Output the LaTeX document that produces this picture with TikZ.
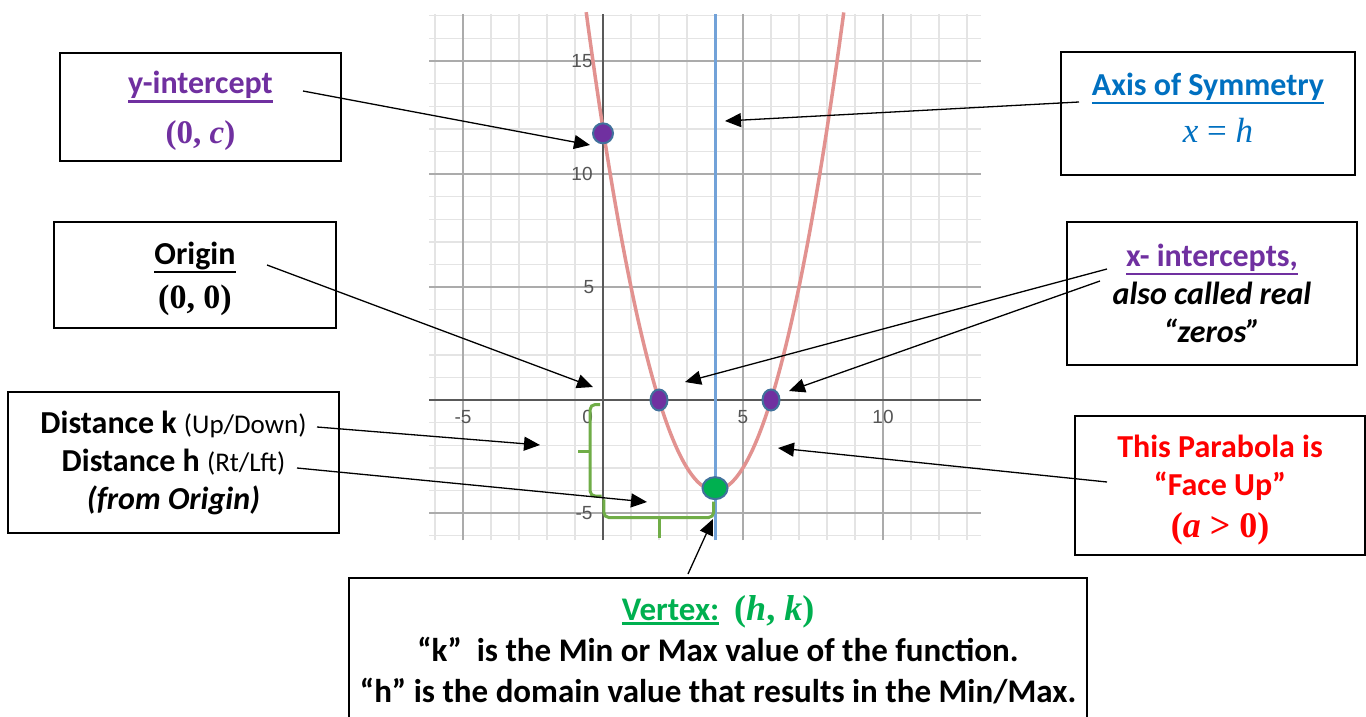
\documentclass[tikz,border=0pt]{standalone}
\usepackage{fontspec}
\setmainfont{Carlito}
\newfontfamily\tickfont{Liberation Sans}
\newfontfamily\mathserif{Liberation Serif}
\usepackage{tikz}
\usetikzlibrary{arrows.meta,calc,shapes.geometric}
\definecolor{purp}{HTML}{7030A0}
\definecolor{symblue}{HTML}{0070C0}
\definecolor{vgreen}{HTML}{00B050}
\definecolor{brgreen}{HTML}{70AD47}
\definecolor{ptedge}{HTML}{41719C}
\definecolor{curvered}{HTML}{E29290}
\definecolor{axisblue}{HTML}{72A2D8}
\definecolor{minorgrid}{HTML}{E4E4E4}
\definecolor{majorgrid}{HTML}{ABABAB}
\definecolor{ticktext}{HTML}{555555}
\newcommand{\uln}[1]{\leavevmode\vtop{\hbox{#1}\kern1.4pt\hrule height 2.2pt}}
\newcommand{\mth}[2]{{\mathserif\fontsize{#1}{#1}\selectfont #2}}
\tikzset{
  notebox/.style={draw=black, line width=1.8pt, fill=white, align=center, inner sep=0pt, font=\fontsize{32}{38}\selectfont\bfseries},
  callout/.style={-{Triangle[length=16pt,width=14pt]}, line width=1.3pt, draw=black},
  minorline/.style={draw=minorgrid, line width=1.4pt},
  majorline/.style={draw=majorgrid, line width=1.5pt},
  axisline/.style={draw=black!65, line width=2pt},
  ticklabel/.style={font=\tickfont\fontsize{19}{19}\selectfont, text=ticktext, inner sep=0pt},
  bracepath/.style={draw=brgreen, line width=3pt, rounded corners=5pt},
  zerodot/.style={ellipse, draw=ptedge, line width=2pt, fill=purp, minimum width=17pt, minimum height=21pt, inner sep=0pt},
  vertexdot/.style={ellipse, draw=ptedge, line width=2pt, fill=vgreen, minimum width=25pt, minimum height=22pt, inner sep=0pt}
}

\begin{document}
\begin{tikzpicture}[x=1pt, y=-1pt]
  \useasboundingbox (0,0) rectangle (1366,717);
  \fill[white] (0,0) rectangle (1366,717);

  % the graph, in its own units
  \begin{scope}[shift={(603,400)}, x=28pt, y=22.6pt]
    \foreach \gx in {-6,...,13} \draw[minorline] (\gx,-6.2) -- (\gx,17.1);
    \foreach \gy in {-6,...,17} \draw[minorline] (-6.2,\gy) -- (13.5,\gy);
    \foreach \gx in {-5,5,10} \draw[majorline] (\gx,-6.2) -- (\gx,17.1);
    \foreach \gy in {-5,5,10,15} \draw[majorline] (-6.2,\gy) -- (13.5,\gy);
    \draw[axisline] (0,-6.2) -- (0,17.1);
    \draw[axisline] (-6.2,0) -- (13.5,0);
    \foreach \v/\px in {15/-0.75,10/-0.75,5/-0.5,-5/-0.68} \node[ticklabel] (ty\v) at (\px,\v) {\v};
    \foreach \v in {-5,5,10} \node[ticklabel] (tx\v) at (\v,-0.75) {\v};
    \node[ticklabel] (tx0) at (-0.55,-0.75) {0};
    \draw[curvered, line width=3.5pt, domain=-0.6:8.6, samples=120] plot (\x, {(\x-2)*(\x-6)});
    \draw[axisblue, line width=3pt] (4,-6.2) -- (4,17.1);
    % distance braces
    \draw[bracepath] (-0.1,-0.2) -| (-0.46,-4.25) -- (-0.05,-4.25);
    \draw[bracepath] (-0.46,-2.3) -- (-0.9,-2.3);
    \draw[bracepath] (0.03,-4.4) |- (3.95,-5.2) -- (3.95,-4.5);
    \draw[bracepath] (2.03,-5.2) -- (2.03,-6.1);
    \node[zerodot, minimum width=20pt, minimum height=20pt] (yint) at (0,11.8) {};
    \node[zerodot] (rootL) at (2,0) {};
    \node[zerodot] (rootR) at (6,0) {};
    \node[vertexdot] (vertex) at (4,-3.9) {};
  \end{scope}

  % text boxes
  \node[notebox, text=purp, minimum width=281, minimum height=108] (yintbox) at (200.5,107)
    {\rule{0pt}{31pt}\uln{y-intercept}\\[12pt]\mth{33}{(0, \textit{c})}};
  \node[notebox, text=symblue, minimum width=294, minimum height=123] (axisbox) at (1208,113.5)
    {\uln{Axis of Symmetry}\\[9pt]\hspace*{20pt}\mth{35}{\mdseries\textit{x} = \textit{h}}\rule[-12pt]{0pt}{12pt}};
  \node[notebox, minimum width=282, minimum height=106] (originbox) at (195,275)
    {\rule{0pt}{30pt}\uln{Origin}\\[6pt]\mth{34}{(0, 0)}};
  \node[notebox, minimum width=290, minimum height=143] (xintbox) at (1212,293.5)
    {{\color{purp}\uln{x- intercepts,}}\\{\itshape also called real}\\{\itshape “zeros”}};
  \node[notebox, minimum width=331, minimum height=141] (distbox) at (173.5,462.5)
    {Distance k {\mdseries\fontsize{27}{38}\selectfont(Up/Down)}\\Distance h {\mdseries\fontsize{27}{38}\selectfont(Rt/Lft)}\\{\itshape(from Origin)}};
  \node[notebox, text=red, minimum width=290, minimum height=139] (facebox) at (1220,485.5)
    {\rule{0pt}{32pt}This Parabola is\\“Face Up”\\[4pt]\mth{36}{(\textit{a} > 0)}};
  \node[notebox, minimum width=738, minimum height=144, font=\fontsize{33}{41}\selectfont\bfseries] (vertexbox) at (718,650)
    {{\color{vgreen}\uln{Vertex:}\ \ \mth{36}{(\textit{h}, \textit{k})}}\\“k”\ \ is the Min or Max value of the function.\\“h” is the domain value that results in the Min/Max.};

  % arrow ends
  \coordinate (yintfrom) at (303,91);    \coordinate (yintto) at (590,145);
  \coordinate (axisfrom) at (1079,102);  \coordinate (axisto) at (725,121);
  \coordinate (origfrom) at (267,265);   \coordinate (origto) at (593,387);
  \coordinate (xintfromA) at (1107,269); \coordinate (xinttoA) at (685,382);
  \coordinate (xintfromB) at (1100,281); \coordinate (xinttoB) at (789,391);
  \coordinate (kfrom) at (317,427);      \coordinate (kto) at (540,445);
  \coordinate (hfrom) at (297,468);      \coordinate (hto) at (647,502);
  \coordinate (facefrom) at (1107,482);  \coordinate (faceto) at (778,448);
  \coordinate (vertfrom) at (688,574);   \coordinate (vertto) at (713,519);

  \draw[callout] (yintfrom) -- (yintto);
  \draw[callout] (axisfrom) -- (axisto);
  \draw[callout] (origfrom) -- (origto);
  \draw[callout] (xintfromA) -- (xinttoA);
  \draw[callout] (xintfromB) -- (xinttoB);
  \draw[callout] (kfrom) -- (kto);
  \draw[callout] (hfrom) -- (hto);
  \draw[callout] (facefrom) -- (faceto);
  \draw[callout] (vertfrom) -- (vertto);
\end{tikzpicture}
\end{document}
